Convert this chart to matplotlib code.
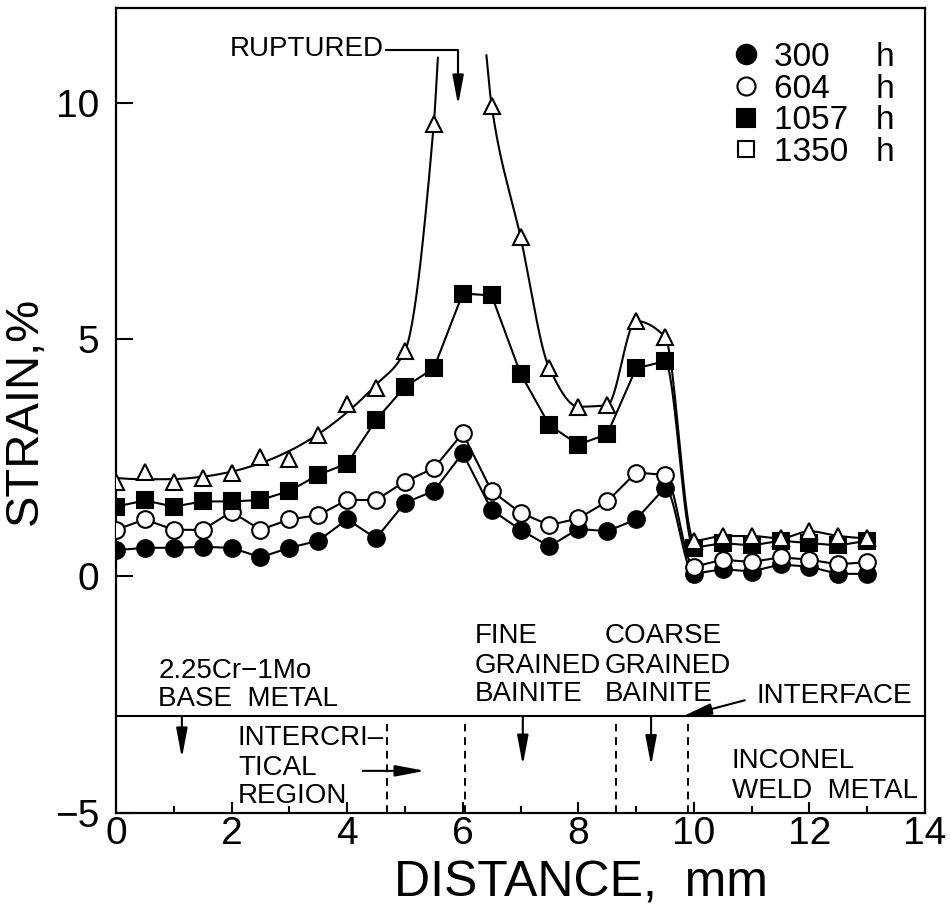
import numpy as np
import matplotlib
matplotlib.use("Agg")
import matplotlib.pyplot as plt
from matplotlib.lines import Line2D

plt.rcParams['font.family'] = ['Liberation Sans', 'DejaVu Sans']
plt.rcParams['axes.unicode_minus'] = True

# ---------------- data ----------------
distance = np.arange(0, 13.01, 0.5)   # mm

strain_300 = [0.55, 0.60, 0.60, 0.62, 0.60, 0.40, 0.60, 0.75, 1.20, 0.80,
              1.55, 1.80, 2.60, 1.40, 0.98, 0.63, 1.00, 0.95, 1.20, 1.87,
              0.05, 0.15, 0.10, 0.25, 0.20, 0.05, 0.05]
strain_604 = [0.98, 1.20, 0.98, 0.98, 1.36, 0.98, 1.20, 1.29, 1.61, 1.61,
              2.00, 2.28, 3.02, 1.80, 1.34, 1.08, 1.22, 1.58, 2.19, 2.14,
              0.20, 0.35, 0.30, 0.40, 0.35, 0.25, 0.30]
strain_1057 = [1.47, 1.60, 1.47, 1.58, 1.58, 1.61, 1.80, 2.14, 2.38, 3.30,
               4.00, 4.39, 5.97, 5.93, 4.28, 3.19, 2.78, 3.00, 4.39, 4.54,
               0.60, 0.70, 0.65, 0.75, 0.70, 0.65, 0.75]
strain_1350 = [2.00, 2.21, 1.98, 2.07, 2.19, 2.52, 2.47, 2.98, 3.63, 3.98,
               4.75, 9.56, np.nan, 9.94, 7.17, 4.39, 3.58, 3.61, 5.39, 5.06,
               0.75, 0.85, 0.85, 0.80, 0.95, 0.85, 0.80]

legend_hours = ['300', '604', '1057', '1350']

# ends of the 1350 h curve where the specimen ruptured (x, strain)
rupture_left = (5.57, 10.95)
rupture_right = (6.41, 11.0)

# zone boundaries (mm) and divider level
boundaries = [4.69, 6.04, 8.65, 9.9]
divider_y = -2.95

x_ticks = [0, 2, 4, 6, 8, 10, 12, 14]
y_ticks = [-5, 0, 5, 10]


# ---------------- helpers ----------------
def pchip(xk, yk, xs):
    xk = np.asarray(xk, float); yk = np.asarray(yk, float)
    n = len(xk)
    h = np.diff(xk); d = np.diff(yk) / h
    m = np.zeros(n)
    if n == 2:
        m[:] = d[0]
    else:
        for k in range(1, n - 1):
            if d[k - 1] * d[k] <= 0:
                m[k] = 0.0
            else:
                w1 = 2 * h[k] + h[k - 1]
                w2 = h[k] + 2 * h[k - 1]
                m[k] = (w1 + w2) / (w1 / d[k - 1] + w2 / d[k])

        def end(h0, h1, d0, d1):
            mm = ((2 * h0 + h1) * d0 - h0 * d1) / (h0 + h1)
            if np.sign(mm) != np.sign(d0):
                mm = 0.0
            elif np.sign(d0) != np.sign(d1) and abs(mm) > abs(3 * d0):
                mm = 3 * d0
            return mm
        m[0] = end(h[0], h[1], d[0], d[1])
        m[-1] = end(h[-1], h[-2], d[-1], d[-2])
    xs = np.asarray(xs, float)
    idx = np.clip(np.searchsorted(xk, xs) - 1, 0, n - 2)
    t = (xs - xk[idx]) / h[idx]
    h00 = 2 * t**3 - 3 * t**2 + 1
    h10 = t**3 - 2 * t**2 + t
    h01 = -2 * t**3 + 3 * t**2
    h11 = t**3 - t**2
    return (h00 * yk[idx] + h10 * h[idx] * m[idx] +
            h01 * yk[idx + 1] + h11 * h[idx] * m[idx + 1])


def polyline_with_smooth_drop(x, y, x0=9.5, x1=10.0):
    x = np.asarray(x, float); y = np.asarray(y, float)
    i0 = int(np.argmin(abs(x - x0))); i1 = int(np.argmin(abs(x - x1)))
    mid = np.linspace(x0, x1, 60)[1:-1]
    ym = pchip(x, y, mid)
    xs = np.concatenate([x[:i0 + 1], mid, x[i1:]])
    ys = np.concatenate([y[:i0 + 1], ym, y[i1:]])
    return xs, ys


# ---------------- figure ----------------
fig = plt.figure(figsize=(9.51, 9.22), dpi=100)
ax = fig.add_axes([116 / 951, 109 / 922, 809 / 951, 805 / 922])

lw = 1.5
ms_c = 12
mew = 1.5

# 300 h, 604 h, 1057 h : straight segments, smooth drop at interface
for ys, mk, fc, ms in [(strain_300, 'o', 'black', ms_c),
                       (strain_604, 'o', 'white', ms_c),
                       (strain_1057, 's', 'black', 11)]:
    lx, ly = polyline_with_smooth_drop(distance, ys)
    ax.plot(lx, ly, color='black', lw=lw, zorder=2)
    ax.plot(distance, ys, linestyle='none', marker=mk, ms=ms,
            mfc=fc, mec='black', mew=mew, zorder=3)

# 1350 h : smooth fitted curve, broken at rupture
y1350 = np.asarray(strain_1350, float)
dist = np.asarray(distance, float)
left_mask = dist <= 5.0
coef = np.polyfit(dist[left_mask], y1350[left_mask], 3)
nodes_x = list(dist[left_mask]) + [5.5, rupture_left[0]]
nodes_y = list(np.polyval(coef, dist[left_mask])) + [y1350[dist == 5.5][0], rupture_left[1]]
xa = np.linspace(0, rupture_left[0], 300)
ax.plot(xa, pchip(nodes_x, nodes_y, xa), color='black', lw=lw, zorder=2)

right_mask = dist >= 6.5
nodes_x = [rupture_right[0]] + list(dist[right_mask])
nodes_y = [rupture_right[1]] + list(y1350[right_mask])
xb = np.linspace(rupture_right[0], dist[-1], 500)
ax.plot(xb, pchip(nodes_x, nodes_y, xb), color='black', lw=lw, zorder=2)

ax.plot(distance, strain_1350, linestyle='none', marker='^', ms=12,
        mfc='white', mec='black', mew=mew, zorder=3)

# ---------------- zone annotations ----------------
ax.axhline(divider_y, color='black', lw=lw, zorder=1)
ax.vlines(boundaries, -5, -3.12, colors='black', lw=1.4,
          linestyles=(0, (4, 3)), zorder=1)

fs = 20
arrow_kw = dict(arrowstyle='-|>,head_length=0.9,head_width=0.17',
                color='black', lw=1.5, mutation_scale=20,
                shrinkA=0, shrinkB=0)

ax.text(1.97, 10.99, 'RUPTURED', fontsize=fs, ha='left', va='baseline')
ax.annotate('', xy=(5.92, 9.95), xytext=(4.67, 11.12),
            arrowprops=dict(connectionstyle='angle,angleA=0,angleB=90,rad=0',
                            **arrow_kw))

ax.text(0.73, -2.15, '2.25Cr\u22121Mo', fontsize=fs, ha='left', va='baseline')
ax.text(0.73, -2.74, 'BASE  METAL', fontsize=fs, ha='left', va='baseline')
ax.annotate('', xy=(1.14, -3.84), xytext=(1.14, divider_y), arrowprops=arrow_kw)

ax.text(2.11, -3.57, 'INTERCRI\u2013', fontsize=fs, ha='left', va='baseline')
ax.text(2.11, -4.20, 'TICAL', fontsize=fs, ha='left', va='baseline')
ax.text(2.11, -4.79, 'REGION', fontsize=fs, ha='left', va='baseline')
ax.annotate('', xy=(5.35, -4.11), xytext=(4.27, -4.11), arrowprops=arrow_kw)

ax.text(6.21, -1.41, 'FINE', fontsize=fs, ha='left', va='baseline')
ax.text(6.21, -2.05, 'GRAINED', fontsize=fs, ha='left', va='baseline')
ax.text(6.21, -2.64, 'BAINITE', fontsize=fs, ha='left', va='baseline')
ax.annotate('', xy=(7.04, -3.99), xytext=(7.04, divider_y), arrowprops=arrow_kw)

ax.text(8.46, -1.41, 'COARSE', fontsize=fs, ha='left', va='baseline')
ax.text(8.46, -2.05, 'GRAINED', fontsize=fs, ha='left', va='baseline')
ax.text(8.46, -2.64, 'BAINITE', fontsize=fs, ha='left', va='baseline')
ax.annotate('', xy=(9.26, -4.0), xytext=(9.26, divider_y), arrowprops=arrow_kw)

ax.text(11.09, -2.68, 'INTERFACE', fontsize=fs, ha='left', va='baseline')
ax.annotate('', xy=(9.79, -2.97), xytext=(10.88, -2.62), arrowprops=arrow_kw)

ax.text(10.66, -4.05, 'INCONEL', fontsize=fs, ha='left', va='baseline')
ax.text(10.66, -4.68, 'WELD  METAL', fontsize=fs, ha='left', va='baseline')

# ---------------- legend ----------------
handles = [Line2D([], [], ls='none', marker='o', ms=14, mfc='black', mec='black', mew=mew),
           Line2D([], [], ls='none', marker='o', ms=13, mfc='white', mec='black', mew=mew),
           Line2D([], [], ls='none', marker='s', ms=13, mfc='black', mec='black', mew=mew),
           Line2D([], [], ls='none', marker='s', ms=12, mfc='white', mec='black', mew=mew)]
labels = [h.ljust(4, '\u2007') + '   h' for h in legend_hours]
ax.legend(handles, labels, loc='upper right',
          bbox_to_anchor=(1 - 30 / 809, 1 - 34 / 805),
          frameon=False, fontsize=24, handlelength=1.0, handletextpad=0.35,
          labelspacing=0.02, borderpad=0, borderaxespad=0)

# ---------------- axes ----------------
ax.set_xlim(0, 14)
ax.set_ylim(-5, 12)
ax.set_xticks(x_ticks)
ax.set_xticks(np.arange(1, 14, 2), minor=True)
ax.set_yticks(y_ticks)
ax.tick_params(axis='both', which='both', direction='in', labelsize=28,
               width=1.5, color='black')
ax.tick_params(axis='x', which='major', length=8, pad=2)
ax.tick_params(axis='x', which='minor', length=5)
ax.tick_params(axis='y', which='major', length=12, pad=12)
for s in ax.spines.values():
    s.set_linewidth(1.6)

ax.set_xlabel('DISTANCE,  mm', fontsize=36, x=(581 - 116) / 809, labelpad=6)
ax.set_ylabel('STRAIN,%', fontsize=34, labelpad=6)

fig.savefig('out.png', dpi=100, facecolor='white')
